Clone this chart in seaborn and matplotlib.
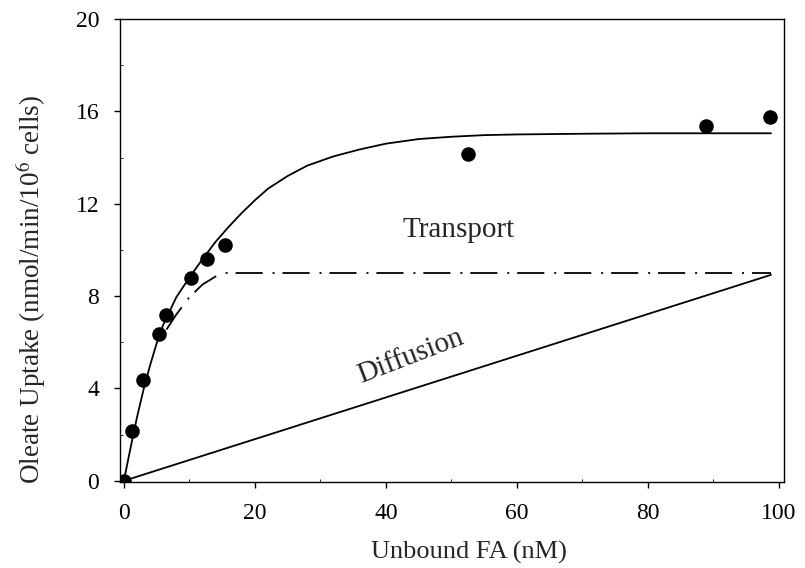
import matplotlib
matplotlib.use("Agg")
import matplotlib.pyplot as plt
import seaborn as sns
import numpy as np
import pandas as pd

# measured uptake
fa_obs = [0, 1.2, 2.9, 5.3, 6.4, 10.2, 12.7, 15.4, 52.5, 88.9, 98.6]
uptake_obs = [0, 2.15, 4.35, 6.35, 7.2, 8.8, 9.6, 10.2, 14.15, 15.35, 15.75]

# fitted total uptake curve
fa_fit = [0, 1, 2, 3, 4, 5, 6, 8, 10, 12, 14, 16, 18, 20, 22, 25, 28, 32, 36, 40,
          45, 50, 55, 60, 70, 80, 90, 98.8]
uptake_fit = [0, 1.4, 2.75, 3.95, 5.0, 5.95, 6.75, 7.95, 8.8, 9.6, 10.35, 11.0,
              11.6, 12.15, 12.65, 13.2, 13.65, 14.05, 14.35, 14.6, 14.8, 14.9,
              14.97, 15.0, 15.03, 15.05, 15.05, 15.05]

# transport component
fa_tr = [6.5, 8, 10, 12, 14, 15.5, 20, 40, 60, 80, 98.8]
uptake_tr = [6.55, 7.2, 7.95, 8.5, 8.85, 9.0, 9.0, 9.0, 9.0, 9.0, 9.0]

# diffusion component
fa_diff = [0, 98.8]
uptake_diff = [0, 8.92]

sns.set_style("ticks")
plt.rcParams["font.family"] = ["Liberation Serif", "DejaVu Serif"]
plt.rcParams["mathtext.fontset"] = "stix"

fig = plt.figure(figsize=(8.05, 5.68), dpi=100)
ax = fig.add_axes([0.149, 0.1514, 0.825, 0.8152])

sns.lineplot(x=fa_fit, y=uptake_fit, ax=ax, color="black", lw=1.3,
             sort=False, estimator=None)
sns.lineplot(x=fa_tr, y=uptake_tr, ax=ax, color="black", lw=1.3,
             sort=False, estimator=None, linestyle=(0, (15, 5.5, 1.1, 4.4)))
sns.lineplot(x=fa_diff, y=uptake_diff, ax=ax, color="black", lw=1.3,
             sort=False, estimator=None)
sns.scatterplot(x=fa_obs, y=uptake_obs, ax=ax, color="black", s=110,
                edgecolor="black", linewidth=0, zorder=5)

ax.text(51.1, 10.87, "Transport", fontsize=21, ha="center", va="center")
ax.text(43.8, 5.4, "Diffusion", fontsize=21, ha="center", va="center",
        rotation=21)

ax.set_xlim(-0.6, 100.8)
ax.set_ylim(-0.05, 20)
ax.set_xticks(np.arange(0, 101, 20))
ax.set_yticks(np.arange(0, 21, 4))
ax.set_xticks(np.arange(10, 100, 20), minor=True)
ax.set_yticks(np.arange(2, 20, 4), minor=True)
ax.tick_params(which="major", direction="out", length=4, width=1,
               pad=11, labelsize=17, colors="black")
ax.tick_params(which="minor", direction="in", length=2.5, width=0.7)
for sp in ax.spines.values():
    sp.set_visible(True)
    sp.set_color("black")
    sp.set_linewidth(1.0)

ax.set_xlabel("Unbound FA (nM)", fontsize=19)
ax.set_ylabel("Oleate Uptake (nmol/min/10$^6$ cells)", fontsize=19.5)
ax.xaxis.set_label_coords(0.526, -0.128)
ax.yaxis.set_label_coords(-0.108, 0.415)

fig.savefig("out.png", dpi=100)
